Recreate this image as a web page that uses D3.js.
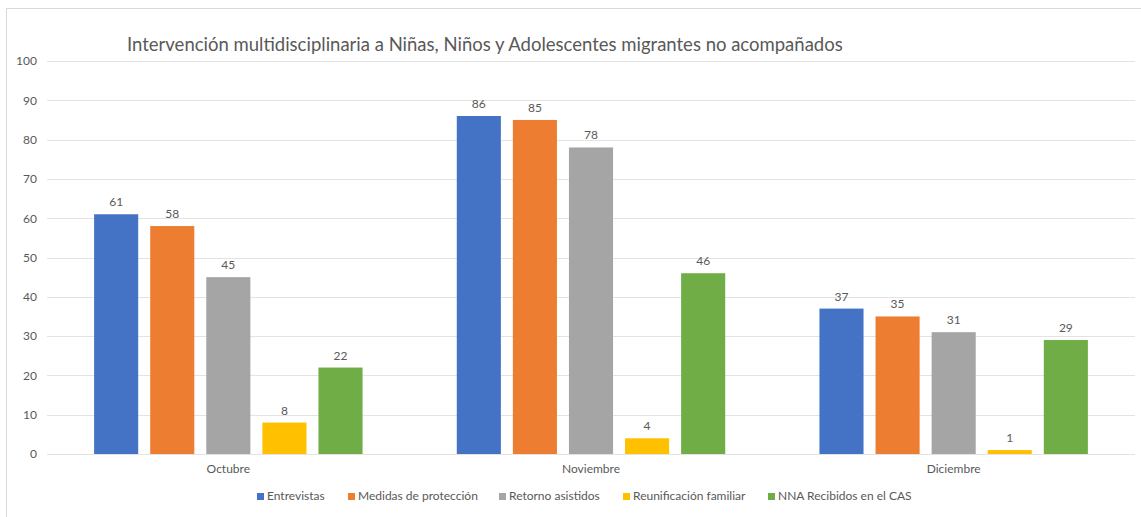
<!DOCTYPE html>
<html>
<head>
<meta charset="utf-8">
<script src="https://cdn.jsdelivr.net/npm/d3@7"></script>
<style>
  body { margin: 0; background: #fff; }
  text { font-family: Lato, "Open Sans", sans-serif; fill: #595959; }
</style>
</head>
<body>
<div id="chart"></div>
<script>
// data
var months = ["Octubre", "Noviembre", "Diciembre"];
var seriesNames = ["Entrevistas", "Medidas de protección", "Retorno asistidos", "Reunificación familiar", "NNA Recibidos en el CAS"];
var entrevistas = [61, 86, 37];
var medidas = [58, 85, 35];
var retorno = [45, 78, 31];
var reunificacion = [8, 4, 1];
var recibidos = [22, 46, 29];
var yTicks = [0, 10, 20, 30, 40, 50, 60, 70, 80, 90, 100];
var colors = ["#4472C4", "#ED7D31", "#A5A5A5", "#FFC000", "#70AD47"];

var allSeries = [entrevistas, medidas, retorno, reunificacion, recibidos];

var svgWidth = 1141;
var svgHeight = 517;

var svg = d3.select("#chart")
    .append("svg")
    .attr("width", svgWidth)
    .attr("height", svgHeight);

// chart frame
svg.append("rect")
    .attr("x", 6.5)
    .attr("y", 8.5)
    .attr("width", 1150)
    .attr("height", 520)
    .attr("fill", "none")
    .attr("stroke", "#d9d9d9");

var plotLeft = 47, plotRight = 1135, plotTop = 61, plotBottom = 454;

var x0 = d3.scaleBand().domain(months).range([plotLeft, plotRight]);
var x1 = d3.scaleBand().domain(seriesNames).range([0, x0.bandwidth()])
    .paddingInner(0.214).paddingOuter(0.84);
var y = d3.scaleLinear().domain([0, 100]).range([plotBottom, plotTop]);

// gridlines
svg.append("g")
    .selectAll("line")
    .data(yTicks)
    .enter()
    .append("line")
    .attr("x1", plotLeft)
    .attr("x2", plotRight)
    .attr("y1", d => Math.round(y(d)) + 0.5)
    .attr("y2", d => Math.round(y(d)) + 0.5)
    .attr("stroke", "#e3e3e3");

// y axis labels
var yAxis = d3.axisLeft(y).tickValues(yTicks).tickSize(0).tickPadding(10);
var yG = svg.append("g")
    .attr("transform", `translate(${plotLeft}, 0)`)
    .call(yAxis);
yG.select(".domain").remove();
yG.selectAll("text").attr("font-size", "12px").style("fill", "#595959")
    .style("font-family", "Lato, sans-serif");

// x axis labels
var xAxis = d3.axisBottom(x0).tickSize(0).tickPadding(10);
var xG = svg.append("g")
    .attr("transform", `translate(0, ${plotBottom})`)
    .call(xAxis);
xG.select(".domain").remove();
xG.selectAll("text").attr("font-size", "12px").style("fill", "#595959")
    .style("font-family", "Lato, sans-serif");

// bars
var groups = svg.append("g")
    .selectAll("g")
    .data(months)
    .enter()
    .append("g")
    .attr("transform", d => `translate(${x0(d)}, 0)`);

groups.selectAll("rect")
    .data((m, i) => seriesNames.map((s, j) => ({ s: s, v: allSeries[j][i], c: colors[j] })))
    .enter()
    .append("rect")
    .attr("x", d => x1(d.s))
    .attr("y", d => y(d.v))
    .attr("width", x1.bandwidth())
    .attr("height", d => y(0) - y(d.v))
    .attr("fill", d => d.c);

groups.selectAll("text.lbl")
    .data((m, i) => seriesNames.map((s, j) => ({ s: s, v: allSeries[j][i] })))
    .enter()
    .append("text")
    .attr("class", "lbl")
    .attr("x", d => x1(d.s) + x1.bandwidth() / 2)
    .attr("y", d => y(d.v) - 8)
    .attr("text-anchor", "middle")
    .attr("font-size", "12px")
    .text(d => d.v);

// title
svg.append("text")
    .attr("x", 127)
    .attr("y", 51)
    .attr("font-size", "18.5px")
    .text("Intervención multidisciplinaria a Niñas, Niños y Adolescentes migrantes no acompañados");

// legend
var legendX = [257, 348, 499, 623, 768];
var legend = svg.append("g")
    .selectAll("g")
    .data(seriesNames)
    .enter()
    .append("g")
    .attr("transform", (d, i) => `translate(${legendX[i]}, 500)`);

legend.append("rect")
    .attr("x", 0)
    .attr("y", -7)
    .attr("width", 7)
    .attr("height", 7)
    .attr("fill", (d, i) => colors[i]);

legend.append("text")
    .attr("x", 10)
    .attr("y", 0)
    .attr("font-size", "12px")
    .text(d => d);
</script>
</body>
</html>
